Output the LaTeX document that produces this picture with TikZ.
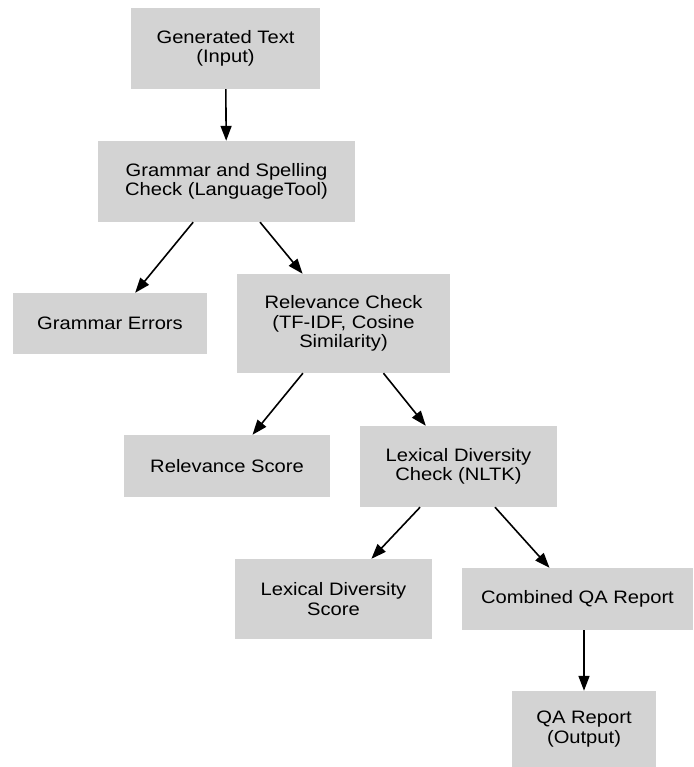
\documentclass[tikz,border=0pt]{standalone}
\usepackage{fontspec}
\setmainfont{Liberation Sans}[FakeStretch=1.12]
\usepackage{tikz}
\usetikzlibrary{arrows.meta, positioning}
\definecolor{boxgray}{RGB}{211,211,211}

\begin{document}
\begin{tikzpicture}[x=1pt, y=-1pt,
    stage/.style={fill=boxgray, draw=none, inner sep=0pt, align=center,
        font=\fontsize{18}{19.5}\selectfont},
    flow/.style={-{Triangle[length=15pt,width=11pt]}, line width=1.6pt}]
    \useasboundingbox (0,0) rectangle (693,767);

    \node[stage, minimum width=189pt, minimum height=81pt] (gen) at (225.5,48.5) {Generated Text\\(Input)};
    \node[stage, minimum width=257pt, minimum height=81pt] (gsc) at (226.5,181.5) {Grammar and Spelling\\Check (LanguageTool)};
    \node[stage, minimum width=194pt, minimum height=61pt] (gerr) at (110,323.5) {Grammar Errors};
    \node[stage, minimum width=213pt, minimum height=99pt] (rel) at (343.5,323.5) {Relevance Check\\(TF-IDF, Cosine\\Similarity)};
    \node[stage, minimum width=206pt, minimum height=62pt] (rscore) at (227,466) {Relevance Score};
    \node[stage, minimum width=197pt, minimum height=81pt] (lex) at (458.5,466.5) {Lexical Diversity\\Check (NLTK)};
    \node[stage, minimum width=197pt, minimum height=80pt] (lscore) at (333.5,599) {Lexical Diversity\\Score};
    \node[stage, minimum width=231pt, minimum height=62pt] (comb) at (577.5,599) {Combined QA Report};
    \node[stage, minimum width=144pt, minimum height=76pt] (qa) at (584,729) {QA Report\\(Output)};

    \draw[flow] (gen) -- (gsc);
    \draw[flow] (gsc) -- (gerr);
    \draw[flow] (gsc) -- (rel);
    \draw[flow] (rel) -- (rscore);
    \draw[flow] (rel) -- (lex);
    \draw[flow] (lex) -- (lscore);
    \draw[flow] (lex) -- (comb);
    \draw[flow] (comb.south -| qa) -- (qa.north);

\end{tikzpicture}
\end{document}
